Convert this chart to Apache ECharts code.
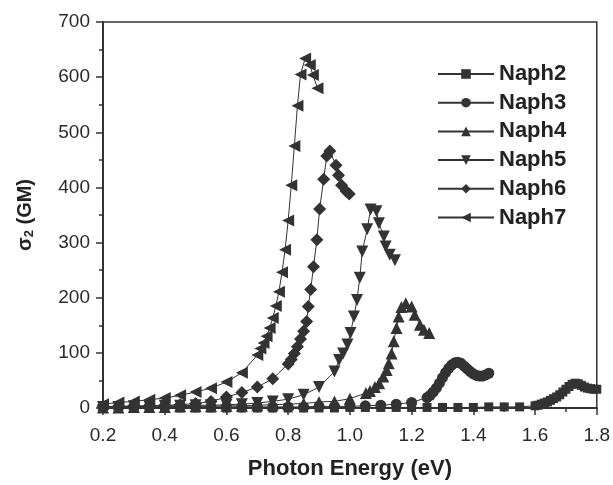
<!DOCTYPE html>
<html>
<head>
<meta charset="utf-8">
<script src="https://cdn.jsdelivr.net/npm/echarts@6/dist/echarts.min.js"></script>
<style>
  html, body { margin: 0; padding: 0; background: #fff; }
  #chart { width: 613px; height: 485px; }
</style>
</head>
<body>
<div id="chart"></div>
<script>
// photon energy (eV) and sigma2 (GM)
var naph2E = [0.2, 0.25, 0.3, 0.35, 0.4, 0.45, 0.5, 0.55, 0.6, 0.65, 0.7, 0.75, 0.8, 0.85, 0.9, 0.95, 1.0, 1.05, 1.1, 1.15, 1.2, 1.25, 1.3, 1.35, 1.4, 1.45, 1.5, 1.55,
              1.6, 1.61, 1.62, 1.63, 1.64, 1.65, 1.66, 1.67, 1.68, 1.69, 1.7, 1.71, 1.72, 1.73, 1.74, 1.75, 1.76, 1.77, 1.78, 1.79, 1.8];
var naph2V = [0, 0, 0, 0, 0, 0, 0, 0, 0, 0, 0, 0, 0, 0, 0, 0, 1, 1, 1, 1, 1, 1, 1, 1, 1, 2, 2, 2,
              4, 5, 7, 9, 11, 14, 17, 20, 24, 29, 34, 39, 43, 45, 44, 41, 38, 36, 35, 34, 34];

var naph3E = [0.2, 0.25, 0.3, 0.35, 0.4, 0.45, 0.5, 0.55, 0.6, 0.65, 0.7, 0.75, 0.8, 0.85, 0.9, 0.95, 1.0, 1.05, 1.1, 1.15, 1.2,
              1.25, 1.26, 1.27, 1.28, 1.29, 1.3, 1.31, 1.32, 1.33, 1.34, 1.35, 1.36, 1.37, 1.38, 1.39, 1.4, 1.41, 1.42, 1.43, 1.44, 1.45];
var naph3V = [1, 1, 1, 2, 2, 2, 2, 2, 2, 2, 2, 2, 2, 2, 3, 3, 3, 4, 5, 7, 10,
              19, 23, 29, 36, 45, 55, 64, 72, 78, 82, 83, 81, 76, 71, 66, 62, 59, 58, 58, 60, 63];

var naph4E = [0.2, 0.25, 0.3, 0.35, 0.4, 0.45, 0.5, 0.55, 0.6, 0.65, 0.7, 0.75, 0.8, 0.85, 0.9, 0.95, 1.0,
              1.052, 1.065, 1.081, 1.095, 1.108, 1.119, 1.126, 1.135, 1.142, 1.151, 1.158, 1.167, 1.181, 1.2, 1.21, 1.227, 1.24, 1.257];
var naph4V = [1, 1, 2, 2, 2, 3, 3, 3, 4, 4, 5, 6, 7, 8, 11, 12, 17,
              27, 31, 38, 45, 57, 69, 81, 99, 121, 145, 166, 183, 190, 184, 169, 151, 142, 136];

var naph5E = [0.2, 0.25, 0.3, 0.35, 0.4, 0.45, 0.5, 0.55, 0.6, 0.65, 0.7, 0.75, 0.8, 0.85, 0.9, 0.95,
              0.965, 0.978, 0.992, 1.002, 1.013, 1.023, 1.032, 1.04, 1.056, 1.067, 1.086, 1.094, 1.11, 1.116, 1.129, 1.146];
var naph5V = [2, 2, 3, 3, 4, 4, 5, 5, 6, 7, 9, 12, 16, 24, 38, 66,
              87, 99, 115, 136, 166, 196, 236, 284, 324, 360, 357, 335, 311, 293, 278, 268];

var naph6E = [0.2, 0.25, 0.3, 0.35, 0.4, 0.45, 0.5, 0.55, 0.6, 0.65, 0.7, 0.75, 0.8, 0.81, 0.82, 0.83, 0.84, 0.85, 0.86,
              0.865, 0.873, 0.882, 0.893, 0.902, 0.915, 0.925, 0.935, 0.955, 0.963, 0.973, 0.988, 0.998];
var naph6V = [3, 3, 4, 4, 5, 6, 8, 12, 20, 28, 38, 53, 80, 88, 99, 111, 125, 139, 157,
              184, 215, 256, 305, 361, 415, 457, 466, 440, 422, 404, 393, 388];

var naph7E = [0.2, 0.25, 0.3, 0.35, 0.4, 0.45, 0.5, 0.55, 0.6, 0.65, 0.7, 0.71, 0.72, 0.73, 0.74, 0.75, 0.76, 0.77, 0.78, 0.79,
              0.8, 0.81, 0.82, 0.83, 0.84, 0.855, 0.87, 0.88, 0.895];
var naph7V = [7, 10, 12, 15, 18, 23, 29, 36, 47, 64, 96, 108, 118, 130, 145, 163, 185, 211, 246, 287,
              340, 404, 475, 548, 605, 634, 622, 604, 580];

var xTicks = [0.2, 0.4, 0.6, 0.8, 1.0, 1.2, 1.4, 1.6, 1.8];
var yTicks = [0, 100, 200, 300, 400, 500, 600, 700];

var ink = '#333333';
var font = '"Liberation Sans", Arial, sans-serif';

function pairs(e, v) {
    var out = [];
    for (var i = 0; i < e.length; i++) out.push([e[i], v[i]]);
    return out;
}

function mkSeries(name, e, v, symbol, size, rot) {
    return {
        name: name,
        type: 'line',
        data: pairs(e, v),
        symbol: symbol,
        symbolSize: size,
        symbolRotate: rot || 0,
        showAllSymbol: true,
        lineStyle: { color: ink, width: 1 },
        itemStyle: { color: ink, borderWidth: 0 },
        emphasis: { disabled: true },
        animation: false
    };
}

var myChart = echarts.init(document.getElementById('chart'));
myChart.setOption({
    backgroundColor: '#fff',
    animation: false,
    grid: {
        left: 103, right: 15, top: 22, bottom: 77,
        show: true, borderColor: ink, borderWidth: 1.5
    },
    legend: {
        orient: 'vertical',
        left: 432, top: 58,
        itemWidth: 56, itemHeight: 12, itemGap: 6.7,
        textStyle: { fontFamily: font, fontWeight: 'bold', fontSize: 22, color: '#222', lineHeight: 21 },
        data: ['Naph2', 'Naph3', 'Naph4', 'Naph5', 'Naph6', 'Naph7']
    },
    xAxis: {
        type: 'value',
        min: xTicks[0], max: xTicks[xTicks.length - 1], interval: 0.2,
        name: 'Photon Energy (eV)',
        nameLocation: 'middle', nameGap: 50,
        nameTextStyle: { fontFamily: font, fontWeight: 'bold', fontSize: 22, color: '#222' },
        axisLine: { lineStyle: { color: ink, width: 2 } },
        axisTick: { length: 7, lineStyle: { color: ink, width: 1.5 } },
        minorTick: { show: true, splitNumber: 2, length: 4, lineStyle: { color: ink, width: 1.5 } },
        splitLine: { show: false },
        axisLabel: { fontFamily: font, fontSize: 19, color: '#2a2a2a', margin: 18,
            formatter: function (v) { return v.toFixed(1); } }
    },
    yAxis: {
        type: 'value',
        min: yTicks[0], max: yTicks[yTicks.length - 1], interval: 100,
        name: '{a|σ}{s|2}{a| (GM)}',
        nameLocation: 'middle', nameGap: 67, nameRotate: 90,
        nameTextStyle: {
            rich: {
                a: { fontFamily: font, fontWeight: 'bold', fontSize: 20, color: '#222' },
                s: { fontFamily: font, fontWeight: 'bold', fontSize: 13, color: '#222', verticalAlign: 'bottom', padding: [8, 0, 0, 0] }
            }
        },
        axisLine: { show: true, lineStyle: { color: ink, width: 2 } },
        axisTick: { show: true, length: 7, lineStyle: { color: ink, width: 1.5 } },
        minorTick: { show: true, splitNumber: 2, length: 4, lineStyle: { color: ink, width: 1.5 } },
        splitLine: { show: false },
        axisLabel: { fontFamily: font, fontSize: 19, color: '#2a2a2a', margin: 13 }
    },
    series: [
        mkSeries('Naph2', naph2E, naph2V, 'rect', 9),
        mkSeries('Naph3', naph3E, naph3V, 'circle', 11),
        mkSeries('Naph4', naph4E, naph4V, 'triangle', 12),
        mkSeries('Naph5', naph5E, naph5V, 'triangle', 12, 180),
        mkSeries('Naph6', naph6E, naph6V, 'diamond', 13),
        mkSeries('Naph7', naph7E, naph7V, 'triangle', 12, 90)
    ]
});
</script>
</body>
</html>
